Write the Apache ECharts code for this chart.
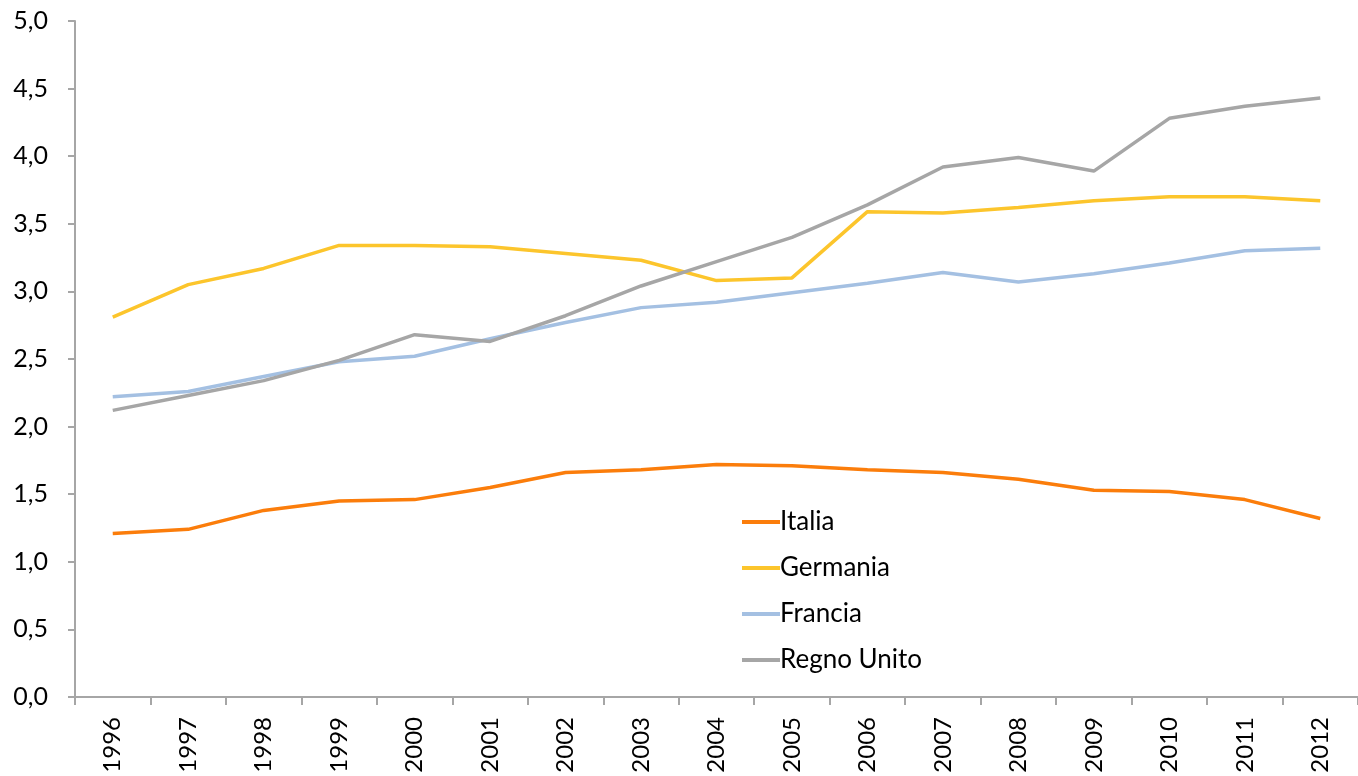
<!DOCTYPE html>
<html>
<head>
<meta charset="utf-8">
<script src="https://cdn.jsdelivr.net/npm/echarts@6/dist/echarts.min.js"></script>
<style>
  html, body { margin: 0; padding: 0; background: #fff; }
  #chart { width: 1358px; height: 776px; }
</style>
</head>
<body>
<div id="chart"></div>
<script>
var years = ['1996', '1997', '1998', '1999', '2000', '2001', '2002', '2003', '2004',
  '2005', '2006', '2007', '2008', '2009', '2010', '2011', '2012']

var italia = [1.21, 1.24, 1.38, 1.45, 1.46, 1.55, 1.66, 1.68, 1.72, 1.71, 1.68, 1.66, 1.61, 1.53, 1.52, 1.46, 1.32]
var germania = [2.81, 3.05, 3.17, 3.34, 3.34, 3.33, 3.28, 3.23, 3.08, 3.10, 3.59, 3.58, 3.62, 3.67, 3.70, 3.70, 3.67]
var francia = [2.22, 2.26, 2.37, 2.48, 2.52, 2.65, 2.77, 2.88, 2.92, 2.99, 3.06, 3.14, 3.07, 3.13, 3.21, 3.30, 3.32]
var regnoUnito = [2.12, 2.23, 2.34, 2.49, 2.68, 2.63, 2.82, 3.04, 3.22, 3.40, 3.64, 3.92, 3.99, 3.89, 4.28, 4.37, 4.43]

var fontFamily = 'Lato, "Open Sans", sans-serif'

function line(name, data, color) {
  return {
    name: name,
    type: 'line',
    data: data,
    symbol: 'none',
    lineStyle: { color: color, width: 3.5 },
    itemStyle: { color: color }
  }
}

var chart = echarts.init(document.getElementById('chart'))
chart.setOption({
  animation: false,
  backgroundColor: '#fff',
  grid: {
    left: 75,
    right: -10,
    top: 21,
    bottom: 79,
    containLabel: false
  },
  legend: {
    orient: 'vertical',
    left: 737,
    top: 504,
    itemGap: 20,
    itemWidth: 38,
    itemHeight: 4,
    icon: 'rect',
    textStyle: { fontFamily: fontFamily, fontSize: 26, color: '#000', padding: [0, 0, 0, -5] },
    data: ['Italia', 'Germania', 'Francia', 'Regno Unito']
  },
  xAxis: {
    type: 'category',
    data: years,
    boundaryGap: true,
    axisLine: { lineStyle: { color: '#a6a6a6', width: 2 } },
    axisTick: { show: true, length: 8, lineStyle: { color: '#a6a6a6', width: 2 } },
    axisLabel: {
      rotate: 90,
      margin: 20,
      interval: 0,
      fontFamily: fontFamily,
      fontSize: 24,
      color: '#000'
    },
    splitLine: { show: false }
  },
  yAxis: {
    type: 'value',
    min: 0,
    max: 5,
    interval: 0.5,
    axisLine: { show: true, lineStyle: { color: '#a6a6a6', width: 2 } },
    axisTick: { show: true, length: 7, lineStyle: { color: '#a6a6a6', width: 2 } },
    axisLabel: {
      margin: 27,
      fontFamily: fontFamily,
      fontSize: 25,
      color: '#000',
      formatter: function(v) { return v.toFixed(1).replace('.', ',') }
    },
    splitLine: { show: false }
  },
  series: [
    line('Italia', italia, '#fb7d0b'),
    line('Germania', germania, '#fcc52c'),
    line('Francia', francia, '#a4c0e2'),
    line('Regno Unito', regnoUnito, '#a6a6a6')
  ]
})
</script>
</body>
</html>
